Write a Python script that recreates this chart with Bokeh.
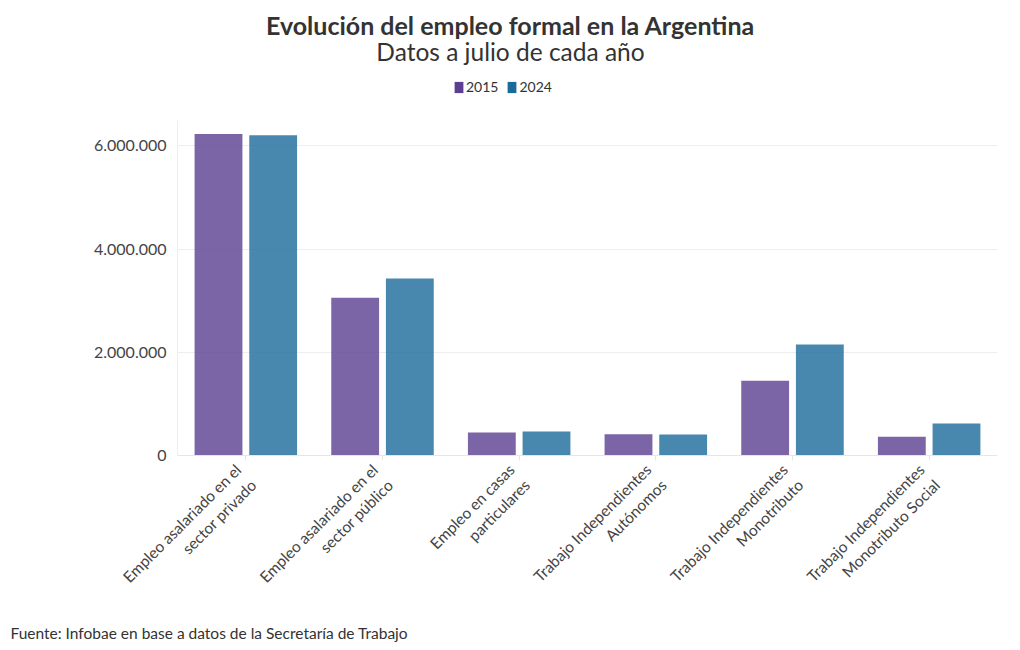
import math
from bokeh.plotting import figure
from bokeh.models import (ColumnDataSource, FactorRange, Range1d, Legend, LegendItem,
                          Title, CustomJSTickFormatter)
from bokeh.core.properties import value
from bokeh.transform import dodge
from bokeh.embed import file_html
from bokeh.resources import INLINE

categories = [
    "Empleo asalariado en el\nsector privado",
    "Empleo asalariado en el\nsector público",
    "Empleo en casas\nparticulares",
    "Trabajo Independientes\nAutónomos",
    "Trabajo Independientes\nMonotributo",
    "Trabajo Independientes\nMonotributo Social",
]
v2015 = [6230000, 3060000, 445000, 410000, 1450000, 365000]
v2024 = [6210000, 3430000, 465000, 405000, 2150000, 620000]
series = ["2015", "2024"]
colors = ["#5b3f91", "#1a6a9a"]
title_text = "Evolución del empleo formal en la Argentina"
subtitle_text = "Datos a julio de cada año"
source_text = "Fuente: Infobae en base a datos de la Secretaría de Trabajo"

FONT = "Lato"
TXT = "#333333"

# layout constants (pixels)
FRAME_LEFT, FRAME_W, FRAME_H = 177, 820, 455
Y_END = 8820000          # value at the top of the (tall) frame
AXIS_TOP = 6500000       # where the visible value axis stops


def x_at(px):
    return (px - FRAME_LEFT) / FRAME_W * len(categories)


def y_at(py):
    return (FRAME_H - py) / FRAME_H * Y_END


src = ColumnDataSource(dict(cat=categories, v2015=v2015, v2024=v2024))

p = figure(frame_width=FRAME_W, frame_height=FRAME_H, x_range=FactorRange(*categories),
           y_range=Range1d(0, Y_END), output_backend="svg", toolbar_location=None,
           min_border_left=FRAME_LEFT, min_border_right=15, min_border_top=0, min_border_bottom=0)
p.outline_line_color = None

p.vbar(x=dodge("cat", -0.2, range=p.x_range), top="v2015", width=0.35, source=src,
       fill_color=colors[0], fill_alpha=0.8, line_color=None)
p.vbar(x=dodge("cat", 0.2, range=p.x_range), top="v2024", width=0.35, source=src,
       fill_color=colors[1], fill_alpha=0.8, line_color=None)

# zero-height proxies so the legend shows the solid series colours
proxy = ColumnDataSource(dict(cat=[categories[0]], top=[0], bottom=[0]))
l1 = p.vbar(x="cat", top="top", bottom="bottom", width=0.1, source=proxy,
            fill_color=colors[0], line_color=None)
l2 = p.vbar(x="cat", top="top", bottom="bottom", width=0.1, source=proxy,
            fill_color=colors[1], line_color=None)

legend = Legend(items=[LegendItem(label=series[0], renderers=[l1]),
                       LegendItem(label=series[1], renderers=[l2])],
                orientation="horizontal", location=(276, 360),
                border_line_color=None, background_fill_alpha=0,
                label_text_font=FONT, label_text_font_size="14px", label_text_color=TXT,
                glyph_width=11, glyph_height=14, spacing=8, label_standoff=2,
                padding=0, margin=0, label_height=14)
p.add_layout(legend)

# title and subtitle
p.text(x=[x_at(510)], y=[y_at(24)], text=[title_text], text_align="center",
       text_baseline="middle", text_font=value(FONT), text_font_size="25px",
       text_font_style="bold", text_color=TXT)
p.text(x=[x_at(510)], y=[y_at(51)], text=[subtitle_text], text_align="center",
       text_baseline="middle", text_font=value(FONT), text_font_size="24.5px",
       text_color=TXT)

p.xgrid.grid_line_color = None
p.ygrid.grid_line_color = "#eeeeee"

p.yaxis.ticker = [0, 2000000, 4000000, 6000000]
p.yaxis.bounds = (0, AXIS_TOP)
p.yaxis.formatter = CustomJSTickFormatter(code="""
return Math.round(tick).toString().replace(/\\B(?=(\\d{3})+(?!\\d))/g, '.');
""")
p.yaxis.axis_line_color = "#eeeeee"
p.yaxis.major_tick_line_color = None
p.yaxis.minor_tick_line_color = None
p.yaxis.major_label_standoff = 5
p.yaxis.major_label_text_font = FONT
p.yaxis.major_label_text_font_size = "16px"
p.yaxis.major_label_text_color = "#444444"

p.xaxis.axis_line_color = "#e6e6e6"
p.xaxis.major_tick_line_color = "#e6e6e6"
p.xaxis.major_tick_out = 5
p.xaxis.major_tick_in = 0
p.xaxis.major_label_standoff = 14
p.xaxis.major_label_orientation = math.pi / 4
p.xaxis.major_label_text_font = FONT
p.xaxis.major_label_text_font_size = "15.5px"
p.xaxis.major_label_text_color = "#444444"
p.xaxis.major_label_text_align = "center"

p.add_layout(Title(text=source_text, align="left", offset=-167,
                   text_font=FONT, text_font_size="15.5px", text_font_style="normal",
                   text_color=TXT, standoff=6), "below")

open("out.html", "w").write(file_html(p, INLINE))
